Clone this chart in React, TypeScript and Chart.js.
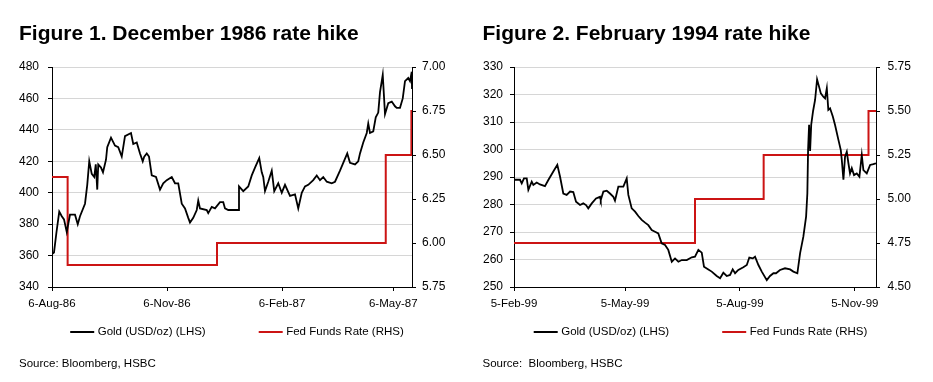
import React, { useEffect, useRef } from 'react';
import { Chart, registerables } from 'chart.js';

Chart.register(...registerables);

const FONT = "'Liberation Sans', Arial, Helvetica, sans-serif";
const RED = '#cc1414';
const GRID = '#d6d6d6';

// ---------- Figure 1 ----------
const title1 = 'Figure 1. December 1986 rate hike';
const source1 = 'Source: Bloomberg, HSBC';
const goldLabel = 'Gold (USD/oz) (LHS)';
const fedLabel = 'Fed Funds Rate (RHS)';

// days since 6-Aug-86
const goldDays1 = [
  0, 1.6, 3.6, 5.8, 7.8, 9.6, 11.8, 14.4, 18.4, 20.6, 22.4, 26.4, 28.2, 29.8, 31.8, 33.8, 35, 36.2, 37, 39.2,
  40.8, 43.2, 44.2, 47.2, 50.4, 53, 55.8, 58.4, 63.2, 65, 67.8, 70.4, 72.6, 73.8, 75.8, 77.6, 79.8, 83.2, 86.4, 89,
  91.8, 95.8, 98.4, 101, 103.8, 106.4, 109, 110.4, 113, 115.8, 117, 118.4, 123.8, 125, 127.8, 130.4, 134.4, 137, 138.4, 141,
  146.4, 149, 149.6, 153, 157, 159.8, 162.4, 165.8, 167.8, 169, 170.4, 173, 175.8, 177.8, 181, 183.8, 186.4, 190.4, 194.4, 197,
  199.8, 202.4, 205, 209, 211.8, 214.4, 217, 219.8, 223.8, 226.4, 230.4, 233, 236.2, 238.4, 242.4, 245, 246.4, 249, 251.8, 253,
  254.4, 257, 259, 261, 262.4, 264.6, 266.4, 269, 271.8, 274.4, 275.8, 278.4, 280.6, 282.4, 285, 286.4, 287.8, 288,
];
const goldValues1 = [
  361, 362, 375, 388, 385, 383, 375, 386, 386, 380, 385, 393, 405, 420, 412, 410, 418, 402, 418, 416,
  413, 421, 429, 435, 430, 429, 423, 436, 438, 431, 432, 425, 420, 423, 425, 423, 411, 410, 402, 406,
  408, 410, 406, 406, 393, 390, 384, 381, 384, 389, 395, 390, 389, 387, 391, 390, 394, 394, 390, 389,
  389, 389, 404, 401, 404, 411, 416, 422, 413, 410, 401, 407, 414, 401, 406, 400, 405, 398, 399, 390,
  400, 404, 405, 408, 411, 408, 410, 407, 406, 407, 414, 419, 425, 419, 418, 420, 425, 432, 438, 444,
  438, 439, 448, 451, 464, 475, 450, 457, 458, 455, 454, 454, 460, 471, 473, 471, 477, 466,
];
const fedDays1 = [0, 12.5, 132, 267, 287.5, 288];
const fedValues1 = [6.375, 5.875, 6.0, 6.5, 6.75, 6.75];
const tickDays1 = [0, 92, 184, 273];
const tickLabels1 = ['6-Aug-86', '6-Nov-86', '6-Feb-87', '6-May-87'];
const xMax1 = 288;
const goldRange1 = [340, 480, 20];
const fedRange1 = [5.75, 7.0, 0.25];

// ---------- Figure 2 ----------
const title2 = 'Figure 2. February 1994 rate hike';
const source2 = 'Source:  Bloomberg, HSBC';
// days since 5-Feb-99
const goldDays2 = [
  0, 2.2, 4.8, 6.2, 8, 10.2, 11.5, 14.2, 15.5, 18.2, 20.8, 24.8, 27.5, 31.5, 34.7, 36.9, 39.5, 42.2, 44.9, 47.5,
  49.7, 52.9, 55.5, 57.7, 59.5, 62.3, 65.7, 68.9, 69.5, 71.6, 74.3, 76.9, 79.6, 80.9, 83.6, 87.6, 90.3, 91.6, 94.3, 97,
  99.6, 102.3, 105, 107.6, 110.3, 113, 115.6, 118.3, 121, 123.6, 126.4, 129, 131.7, 134.4, 138.4, 142.4, 145, 147.7, 150.4, 152.2,
  155.7, 158.4, 162.4, 165.1, 167.7, 170.4, 173.1, 175.2, 177.1, 179.7, 183.7, 186.5, 188.5, 191.3, 193.1, 195.8, 198.5, 202.5, 205.1, 207.8,
  209.9, 213.1, 217.1, 221.2, 223.8, 227, 229.2, 231.8, 234, 235, 235.6, 236.4, 237.2, 238.1, 239.6, 241.2, 242.8, 244, 245.8, 247.8,
  249.2, 250.6, 251.8, 253.2, 255.4, 257.2, 259.9, 261.8, 262.6, 263.9, 265.2, 266.6, 267.9, 269.2, 270.6, 272.4, 274.6, 276.7, 278.6, 279.9,
  282.6, 285.3, 287.9, 290,
];
const goldValues2 = [
  289, 289, 289, 287.7, 289.5, 289.5, 285.3, 288.3, 287.1, 288, 287.3, 286.7, 288.9, 292, 294.4, 290.1, 284, 283.5, 284.7, 284.5,
  281, 279.8, 280.4, 279.8, 278.6, 280.4, 282.2, 282.8, 281.6, 284.7, 285, 284, 282.8, 281.4, 286.5, 286.5, 289.5, 283.5, 278.6, 277.4,
  275.8, 274.4, 273.4, 272.5, 270.7, 270.1, 269.5, 265.9, 265.3, 263.5, 259.2, 260.4, 259.2, 259.8, 259.8, 260.8, 261, 263.5, 262.5, 257.4,
  256.4, 255.6, 254, 253.2, 255.2, 254, 254.4, 256.4, 255, 256.2, 257.2, 258, 260.7, 260.4, 261, 258, 255.6, 252.5, 254, 255,
  255, 256.2, 256.8, 256.4, 255.6, 255, 262.3, 268.3, 275.6, 284, 300, 309, 299.5, 309, 314, 318, 325.5, 323.5, 320.4, 319.2,
  318.6, 322.3, 314.4, 315, 312, 308.9, 303.5, 299.8, 296.2, 289, 297.4, 299.2, 295, 291.3, 293.2, 290.7, 291.3, 290.1, 298, 292.5,
  291.3, 294.4, 294.7, 295,
];
const fedDays2 = [0, 145, 200, 284, 290];
const fedValues2 = [4.75, 5.0, 5.25, 5.5, 5.5];
const tickDays2 = [0, 89, 181, 273];
const tickLabels2 = ['5-Feb-99', '5-May-99', '5-Aug-99', '5-Nov-99'];
const xMax2 = 290;
const goldRange2 = [250, 330, 10];
const fedRange2 = [4.5, 5.75, 0.25];

const legendLine = {
  id: 'legendLine',
  afterDraw(chart: any, _args: any, opts: any) {
    const { ctx, width } = chart;
    ctx.save();
    ctx.font = `${opts.fontSize}px ${FONT}`;
    const items = chart.data.datasets.map((ds: any) => ({
      text: ds.label,
      color: ds.borderColor,
      lw: 2,
      w: ctx.measureText(ds.label).width,
    }));
    const total =
      items.reduce((s: number, it: any) => s + opts.lineLen + opts.textGap + it.w, 0) +
      opts.itemGap * (items.length - 1);
    let x = width / 2 + (opts.offsetX || 0) - total / 2;
    const y = opts.y;
    items.forEach((it: any) => {
      ctx.strokeStyle = it.color;
      ctx.lineWidth = it.lw;
      ctx.beginPath();
      ctx.moveTo(x, y);
      ctx.lineTo(x + opts.lineLen, y);
      ctx.stroke();
      x += opts.lineLen + opts.textGap;
      ctx.fillStyle = '#000';
      ctx.textBaseline = 'middle';
      ctx.textAlign = 'left';
      ctx.fillText(it.text, x, y);
      x += it.w + opts.itemGap;
    });
    ctx.restore();
  },
};

type Spec = {
  title: string;
  source: string;
  goldDays: number[];
  goldValues: number[];
  fedDays: number[];
  fedValues: number[];
  tickDays: number[];
  tickLabels: string[];
  xMax: number;
  goldRange: number[];
  fedRange: number[];
  width: number;
  padLeft: number;
  leftW: number;
  rightW: number;
  leftPad: number;
  rightPad: number;
  legendOffset: number;
};

function makeConfig(s: Spec): any {
  return {
    type: 'line',
    data: {
      datasets: [
        {
          label: goldLabel,
          data: s.goldDays.map((d, i) => ({ x: d, y: s.goldValues[i] })),
          borderColor: '#000',
          backgroundColor: '#000',
          borderWidth: 1.8,
          pointRadius: 0,
          tension: 0,
          yAxisID: 'y',
        },
        {
          label: fedLabel,
          data: s.fedDays.map((d, i) => ({ x: d, y: s.fedValues[i] })),
          borderColor: RED,
          backgroundColor: RED,
          borderWidth: 2,
          pointRadius: 0,
          stepped: 'before',
          yAxisID: 'y1',
        },
      ],
    },
    options: {
      responsive: false,
      animation: false,
      devicePixelRatio: 1,
      layout: { padding: { left: s.padLeft, right: 0, top: 0, bottom: 0 } },
      plugins: {
        legend: { display: false },
        tooltip: { enabled: false },
        title: {
          display: true,
          text: s.title,
          align: 'start',
          color: '#000',
          font: { family: FONT, size: 21, weight: 'bold' },
          padding: { top: 22, bottom: 19.8 },
        },
        subtitle: {
          display: true,
          text: s.source,
          position: 'bottom',
          align: 'start',
          color: '#000',
          font: { family: FONT, size: 11.5 },
          padding: { top: 40.9, bottom: 11.1 },
        },
        legendLine: { y: 332, fontSize: 11.5, lineLen: 24, textGap: 3.5, itemGap: 53, offsetX: s.legendOffset },
      },
      scales: {
        x: {
          type: 'linear',
          position: 'bottom',
          min: 0,
          max: s.xMax,
          border: { display: true, color: '#000', width: 1 },
          grid: { display: true, drawOnChartArea: false, drawTicks: true, tickLength: 4, tickColor: '#000' },
          ticks: {
            autoSkip: false,
            maxRotation: 0,
            padding: 6,
            color: '#000',
            font: { family: FONT, size: 11.5 },
            callback: (v: any) => {
              const i = s.tickDays.indexOf(Number(v));
              return i >= 0 ? s.tickLabels[i] : '';
            },
          },
          afterBuildTicks: (scale: any) => {
            scale.ticks = s.tickDays.map((v) => ({ value: v }));
          },
          afterFit: (scale: any) => {
            scale.height = 29.2;
          },
        },
        y: {
          type: 'linear',
          position: 'left',
          min: s.goldRange[0],
          max: s.goldRange[1],
          border: { display: true, color: '#000', width: 1 },
          grid: { color: GRID, lineWidth: 1, tickColor: '#000', tickLength: 4 },
          ticks: {
            stepSize: s.goldRange[2],
            padding: s.leftPad,
            color: '#000',
            font: { family: FONT, size: 12 },
          },
          afterFit: (scale: any) => {
            scale.width = s.leftW;
          },
        },
        y1: {
          type: 'linear',
          position: 'right',
          min: s.fedRange[0],
          max: s.fedRange[1],
          border: { display: true, color: '#000', width: 1 },
          grid: { drawOnChartArea: false, tickColor: '#000', tickLength: 4 },
          ticks: {
            stepSize: s.fedRange[2],
            padding: s.rightPad,
            color: '#000',
            font: { family: FONT, size: 12 },
            callback: (v: any) => Number(v).toFixed(2),
          },
          afterFit: (scale: any) => {
            scale.width = s.rightW;
          },
        },
      },
    },
    plugins: [legendLine],
  };
}

const spec1: Spec = {
  title: title1,
  source: source1,
  goldDays: goldDays1,
  goldValues: goldValues1,
  fedDays: fedDays1,
  fedValues: fedValues1,
  tickDays: tickDays1,
  tickLabels: tickLabels1,
  xMax: xMax1,
  goldRange: goldRange1,
  fedRange: fedRange1,
  width: 466,
  padLeft: 19,
  leftW: 33,
  rightW: 54,
  leftPad: 9,
  rightPad: 6,
  legendOffset: 4,
};

const spec2: Spec = {
  title: title2,
  source: source2,
  goldDays: goldDays2,
  goldValues: goldValues2,
  fedDays: fedDays2,
  fedValues: fedValues2,
  tickDays: tickDays2,
  tickLabels: tickLabels2,
  xMax: xMax2,
  goldRange: goldRange2,
  fedRange: fedRange2,
  width: 467,
  padLeft: 16.5,
  leftW: 31.5,
  rightW: 57,
  leftPad: 7,
  rightPad: 7.5,
  legendOffset: 1,
};

function Panel({ spec }: { spec: Spec }) {
  const ref = useRef<HTMLCanvasElement | null>(null);
  useEffect(() => {
    if (!ref.current) return;
    const chart = new Chart(ref.current, makeConfig(spec));
    return () => chart.destroy();
  }, [spec]);
  return (
    <canvas
      ref={ref}
      width={spec.width}
      height={382}
      style={{ display: 'block', width: spec.width, height: 382 }}
    />
  );
}

export default function App() {
  return (
    <div
      style={{
        position: 'absolute',
        left: 0,
        top: 0,
        width: 933,
        height: 382,
        display: 'flex',
        background: '#fff',
      }}
    >
      <Panel spec={spec1} />
      <Panel spec={spec2} />
    </div>
  );
}
